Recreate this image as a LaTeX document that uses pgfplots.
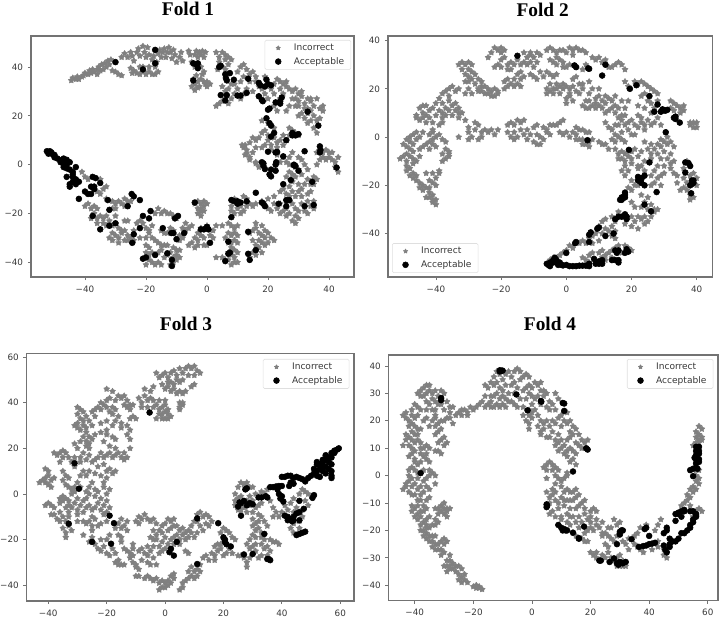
\documentclass[border=0pt]{standalone}
\usepackage{fontspec}
\setmainfont{DejaVu Sans}
\newfontfamily\titlefont{Liberation Serif}
\usepackage{pgfplots}
\pgfplotsset{compat=1.18}
\definecolor{frame}{gray}{0.45}
\definecolor{ink}{gray}{0.22}
\definecolor{ptgrey}{gray}{0.5}
\pgfdeclareplotmark{fstar}{%
  \pgfpathmoveto{\pgfqpointpolar{90}{\pgfplotmarksize}}%
  \pgfpathlineto{\pgfqpointpolar{126}{0.58\pgfplotmarksize}}%
  \pgfpathlineto{\pgfqpointpolar{162}{\pgfplotmarksize}}%
  \pgfpathlineto{\pgfqpointpolar{198}{0.58\pgfplotmarksize}}%
  \pgfpathlineto{\pgfqpointpolar{234}{\pgfplotmarksize}}%
  \pgfpathlineto{\pgfqpointpolar{270}{0.58\pgfplotmarksize}}%
  \pgfpathlineto{\pgfqpointpolar{306}{\pgfplotmarksize}}%
  \pgfpathlineto{\pgfqpointpolar{342}{0.58\pgfplotmarksize}}%
  \pgfpathlineto{\pgfqpointpolar{18}{\pgfplotmarksize}}%
  \pgfpathlineto{\pgfqpointpolar{54}{0.58\pgfplotmarksize}}%
  \pgfpathclose
  \pgfusepathqfillstroke}
\pgfplotsset{
 fold/.style={
  scale only axis, anchor=south west,
  axis line style={frame,line width=0.8pt},
  tick align=outside, tick pos=left,
  major tick length=2.4pt,
  tick style={frame,line width=0.6pt},
  tick label style={font=\fontsize{6.6}{7}\selectfont, text=ink},
  xticklabel style={yshift=-0.5pt},
  legend cell align=left,
  legend image code/.code={\draw[##1] plot coordinates {(0pt,0pt)}; \path (-6.75pt,0pt) (9.5pt,0pt);},
  legend style={font=\fontsize{6.8}{8}\selectfont, text=ink, draw=gray!25, fill=white, rounded corners=1pt,
    inner xsep=3pt, inner ysep=0.6pt, row sep=-0.4pt, /tikz/every even column/.append style={column sep=4pt}},
 },
 gpts/.style={only marks, mark=fstar, mark size=2.35pt, color=ptgrey, mark options={solid,draw=ptgrey,fill=ptgrey,line width=0.3pt},
   legend image post style={mark size=1.7pt}},
 bpts/.style={only marks, mark=*, mark size=2.2pt, color=black, mark options={solid,draw=black,fill=black}},
}
\begin{document}
\begin{tikzpicture}[x=1pt,y=1pt]
\path[use as bounding box] (0,0) rectangle (540,462.75);
\node[font=\titlefont\bfseries\fontsize{14.5}{16}\selectfont] at (141,456) {Fold 1};
\node[font=\titlefont\bfseries\fontsize{14.5}{16}\selectfont] at (407,455.25) {Fold 2};
\node[font=\titlefont\bfseries\fontsize{14.5}{16}\selectfont] at (139.5,219.75) {Fold 3};
\node[font=\titlefont\bfseries\fontsize{14.5}{16}\selectfont] at (412.5,219.75) {Fold 4};

% ---------- Fold 1
\begin{axis}[fold, at={(23.25pt,255pt)}, width=242.25pt, height=180.75pt,
 xmin=-57.7, xmax=48.2, ymin=-46, ymax=52.7,
 xtick={-40,-20,0,20,40}, xticklabels={−40,−20,0,20,40},
 ytick={-40,-20,0,20,40}, yticklabels={−40,−20,0,20,40},
 legend style={at={(1,1)},anchor=north east,xshift=-2.2pt,yshift=-3pt}]
\addplot[gpts] coordinates {
(-44.5,34.5)(-44,35.5)(-43,35)(-42.5,36)(-42,35)(-41,36)(-40.5,36.5)(-40,37.5)(-39,37)(-38.5,38.5)(-38,37.5)(-37.5,39)(-37,38)(-36,39)(-36,37)(-35.5,40)(-35,38.5)(-34.5,41)(-34,39)(-33.5,41.5)(-33,40)(-32.5,42.5)(-32,41)(-31.5,43)(-31,38.5)(-30,38)(-29,37)(-28,36.5)
(-28,44)(-27,45.5)(-26,44)(-25,46)(-24.5,44.5)(-24,42.5)(-23,46)(-22.5,47.5)(-22,44.5)(-21,48.5)(-20.5,46)(-20,44)(-19.5,48)(-19,45)(-18,43)(-17.5,44.5)(-16.5,42)(-16,45.5)(-15.5,47)(-15,44)(-14.5,46)(-14,47.5)(-13.5,44)(-13,46)(-12.5,48)(-12,46)(-11.5,43.5)(-11,47)(-10.5,45)(-10,42)(-9,44)(-8.5,46)(-8,42.5)
(-25,39.5)(-24.5,37.5)(-24,38.5)(-23,37.5)(-22,37)(-21,38)(-20,37)(-19,38)(-18,37)(-17,37)(-16,38)(-17,40)(-22,40)(-21,40)(-19,40)
(-6,46.5)(-5.5,45)(-5,42)(-4,45)(-3.5,46.5)(-3,44)(-2.5,46)(-2,45)(-1.5,46.5)(-1,44)(-0.5,46)(-4,40)(-2,40)
(-5,32)(-4.5,35)(-4,33)(-3.5,36.5)(-3,34)(-2.5,32)(-2,35)(-1.5,37)(-1,34)(-0.5,33)(0,34)(1,33)(-3,31.5)(-4,30.5)(-1,38)(0,32)
(3,46)(4,44)(5,46)(6,45)(7,44)(8,43)(4,42)(6,43)(5,40)(6,39)(7,41)(3.5,39)
(4,25)(5,26)(3,24)(6,27)(7,25)(8,27)(6,30)(7,31)(9,29)(8,33)(5,32)(10,31)(9,33)(11,27)(12,29)(13,31)(11,34)(12,36)(10,38)(11,40)(12,41)(13,39)(14,37)(15,38)(16,36)(14,34)(16,34)(17,32)(15,30)(18,31)(19,29)(17,28)(20,27)(19,36)
(22,33)(23,35)(24,34)(25,33)(26,34)(24,31)(25,29)(26,32)(22,29)(21,31)(24,27)(27,24)(26,22)(23,22)(22,24)
(28,30)(29,31)(30,29)(31,30)(29,27)(30,26)(31,28)(32,25)(33,27)(34,26)(35,24)(32,23)(31,21)(30,20)(32,19)(33,21)(34,22)(35,20)(36,18)(34,18)(33,17)(35,15)(37,23)(38,22)(38,24)(36,27)(34,27)(37,19)(36,13)
(18,18)(20,17)(22,15)(19,14)(20,12)(18,13)(17,11)(15,11)(16,10)(14,9)(20,10)(22,11)(23,9)(21,8)(23,7)(24,10)(25,8)(26,10)(27,12)(28,14)(29,13)(27,15)(25,12)(30,12)(21,6)(23,4)
(11.5,8)(12.5,8)(12,7)(13,6)(13,4.5)(14,3)(12.5,4)(14,2)(15,5)(16,0.5)(17,-1)(16,1)
(25,3)(26,1)(27,0)(29,-1)(30,3)(31,2)(32,0)(30,-2)(33,-2)(31,-4)(29,-5)(33,-6)(35,-5)(34,-8)(32,-8)(30,-8)(28,-7)(27,-9)(25,-10)(26,-12)(24,-11)
(36,5)(38,5)(39,6)(40,5)(41,5)(40,3)(39,2)(41,2)(42,1)(43,3)(42,-1)(43,-3)(38,3)(37,2)(36,0)
(16,-16)(18,-15)(20,-14)(22,-16)(20,-18)(21,-19)(23,-18)(24,-16)(25,-19)(26,-15)(26,-18)(27,-20)(27,-13)(28,-16)(29,-18)(29,-21)(28,-23)(29,-24)(30,-22)(30,-19)(31,-16)(32,-19)(33,-15)(33,-20)(34,-17)(35,-15)(35,-18)(31,-13)(33,-12)(30,-11)(22,-13)(24,-20)(26,-21)
(-4,-16)(-3,-15)(-2,-16)(-1,-15)(-3,-18)(-2,-19)(-1,-17)(-3,-20)(-2,-21)(-1,-19)(0,-16)(-2,-18)
(9,-14)(12,-13)(13,-14)(11,-17)(12,-19)(10,-18)(11,-20)(13,-17)(14,-16)(15,-17)(9,-20)(8,-19)(8,-17)
(7,-24)(8,-25)(9,-26)(10,-25)(7,-28)(8,-29)(9,-28)(10,-29)(6,-30)(7,-32)(8,-32)(9,-31)(10,-32)(8,-34)(9,-35)(7,-36)(8,-37)(10,-36)(5,-38)(3,-38)(6,-39)(7,-39)(8,-41)(9,-40)(10,-40)(9,-38)
(14,-28)(15,-27)(16,-26)(17,-28)(16,-24)(18,-25)(19,-27)(18,-29)(19,-30)(20,-28)(21,-30)(22,-31)(20,-32)(18,-32)(19,-33)(17,-31)(15,-31)(16,-33)(17,-34)(15,-36)(16,-37)(14,-38)(18,-36)
(-40,-17)(-39,-16)(-38,-18)(-37,-17)(-36,-18)(-37,-20)(-36,-22)(-38,-22)(-35,-21)(-34,-22)(-33,-21)(-36,-24)(-34,-24)(-33,-25)(-32,-23)(-30,-24)(-27,-23)(-26,-23)(-31,-28)(-32,-30)(-31,-31)(-30,-29)(-29,-30)(-28,-28)(-27,-27)(-26,-29)(-27,-31)(-26,-31)(-25,-30)(-24,-31)(-29,-32)(-28,-27)
(-33,-14)(-31,-15)(-30,-16)(-29,-15)(-28,-16)(-31,-18)(-30,-18)(-27,-14)(-26,-15)(-25,-15)(-27,-17)(-35,-12)(-36,-11)(-34,-10)(-37,-9)(-39,-6)(-40,-5)(-41,-3)(-35,-6)(-33,-9)
(-20,-33)(-19,-34)(-20,-36)(-19,-37)(-18,-36)(-20,-38)(-19,-39)(-20,-41)(-18,-40)(-17,-41)(-16,-40)(-15,-41)(-14,-38)(-13,-37)(-12,-41)(-11,-40)(-10,-39)(-11,-38)(-10,-37)(-9,-38)(-9,-35)(-10,-35)(-11,-34)(-12,-36)(-13,-33)
(-23,-24)(-22,-23)(-21,-24)(-20,-26)(-19,-27)(-18,-25)(-19,-28)(-22,-30)(-20,-30)(-18,-30)(-17,-31)(-16,-32)(-15,-27)(-14,-28)(-13,-28)(-15,-20)(-17,-20)(-16,-18)(-14,-19)(-13,-20)(-12,-20)(-11,-21)(-10,-22)(-12,-26)(-11,-27)(-9,-29)(-8,-30)(-7,-27)(-6,-26)(-5,-25)(-4,-30)(-3,-31)(-3,-28)(-2,-29)(-2,-26)(-1,-30)(-1,-33)(0,-33)(1,-29)(2,-30)(0,-25)(2,-27)(3,-25)(5,-25)(-5,-32)(-3,-33)
(-30,-21)(-29,-26)(-31,-25)(-24,-27)(28,5)(27,3)(24,1)(27,-3)(28,-4)(26,-5)(36,-6)(35,-8)(34,-11)(31,-10)(29,-13)(28,-11)(19,8)(18,7)(16,7)(27,31)(28,27)(29,24)(30,24)(33,23)(-7,-24)(-8,-26)(-9,-31)(-6,-33)(-4,-34)(-15,-35)(-16,-36)(-14,-33)(-15,-33)
};
\addlegendentry{Incorrect}
\addplot[bpts] coordinates {
(-30,42)(-17,47)(-21,39)(-17,41.5)(-4.5,41.5)(-3.5,41)(-3,41.5)(-3,39.5)(-4.5,34.5)(4,40)(4.5,40.5)(6,37)(7.5,37.5)(6.2,35.5)(6.5,34.5)(8.8,34.8)(13.5,35.2)(17,33.5)(17.5,32.5)(19,32)(19.5,34.8)(20,33)(21,32.5)(4.5,28.5)(6.5,28.5)(6,26.3)(10,28.3)(11,28.3)(13,29.4)(17,28)(18,26.5)(18.3,26)(22.5,25.5)(24,25)(24.5,27.5)(24,26)(20.5,23)(20,22.5)(33,21.7)(36.5,16)(19.5,19)(20.5,17)(21,16)(22,13)(21,11.5)(28,13)(29,12)(30,12.5)(28,12)(26,10)(37,7.5)(37.2,6)(37,5)(32,5.5)(20,5.3)(22.5,5)(23,5.2)(25,3.4)(22.7,1)(22.5,0)(18,1)(18.5,0.5)(18.5,-0.5)(19,-1.8)(21,-2)(22.5,-2.5)(28.5,0)(29,-0.5)(28.5,-0.3)(30,-2.5)(42.5,-1.2)(20.5,-4)(21,-4.8)(25,-8)(27.5,-6.3)(34.5,-7)
(-52.5,5.5)(-52,5)(-51.5,5.5)(-51,5)(-52,4.5)(-51,4.5)(-50,4)(-50,3)(-49,2.5)(-47.5,2)(-47,2.5)(-46.5,1.5)(-46,2)(-48,1)(-47,0.5)(-46,0)(-47,-1)(-46,-1.5)(-45,1)(-43,-1)(-45,-2)(-44,-3)(-46,-5)(-44,-4)(-44,-5)(-43,-6)(-44,-7)(-45,-8)(-43,-8)(-42,-7)(-45,-9)(-37.5,-5)(-36.5,-5.5)(-35,-7.5)(-38,-9)(-37,-9)(-40,-11)(-39,-12)(-38,-12)(-37,-10)(-42,-14)(-32.5,-14.5)(-24.7,-12)(-24,-13)(-22,-14.5)(-26,-17)(-37.5,-21)(-35,-26.5)(-32,-18.5)(-32,-25)(-30,-24)
(-18.5,-19)(-21,-21)(-19,-22)(-22,-26)(-24,-28.5)(-24.5,-32)(-21,-38.5)(-20,-38)(-17,-37)(-14.5,-26)(-13,-36.3)(-11.5,-39)(-11.5,-41.5)(-11.7,-28)(-11,-28)(-9.5,-21)(-10.5,-22)(-10,-30.5)(-7.5,-28)(-4,-15.5)
(-2,-26.5)(-1,-26.5)(0,-25.5)(0.5,-26.5)(1,-32)(6,-39.5)(7,-36.5)(7.5,-36)(7,-31.5)(8,-21.5)(8,-14.5)(9,-15)(10,-15)(10,-16)(11,-15.5)(13,-15)(16,-11.5)(18,-15.5)(19,-17)(18.5,-16)(13.5,-27.5)(16,-35)(13.5,-36.5)(14,-39)(23.5,-16)(26,-17)(26,-14.5)(27,-14.5)(32,-17)(35,-16.5)
};
\addlegendentry{Acceptable}
\end{axis}

% ---------- Fold 2
\begin{axis}[fold, at={(291pt,255pt)}, width=243.5pt, height=180.75pt,
 xmin=-54.7, xmax=44.9, ymin=-58, ymax=41.9,
 xtick={-40,-20,0,20,40}, xticklabels={−40,−20,0,20,40},
 ytick={-40,-20,0,20,40}, yticklabels={−40,−20,0,20,40},
 legend style={at={(0,0)},anchor=south west,xshift=3pt,yshift=3pt}]
\addplot[gpts] coordinates {
(-51,-9)(-50,-8)(-49,-10)(-48,-8)(-49,-7)(-47,-9)(-46,-10)(-47,-11)(-49,-12)(-49,-14)(-48,-13)(-47,-15)(-48,-16)(-47,-17)(-46,-16)(-46,-18)(-45,-19)(-44,-20)(-45,-21)(-44,-22)(-43,-21)(-42,-23)(-42,-25)(-43,-25)(-41,-26)(-41,-27)(-40,-28)(-40,-26)(-41,-24)(-42,-21)(-40,-20)(-41,-19)(-42,-18)(-40,-17)(-43,-15)(-41,-15)(-39,-14)(-39,-15)
(-50,-3)(-49,-1)(-48,0)(-47,1)(-46,2)(-49,-4)(-48,-2)(-47,-3)(-48,-5)(-46,-1)(-45,0)(-45,-5)(-44,-4)(-43,-3)(-42,-2)(-41,-1)(-42,-5)(-40,-4)(-42,1)(-41,2)(-40,0)(-39,1)(-41,-3)(-38,-1)(-37,-2)(-37,-5)(-36,-6)(-36,-8)(-37,-9)(-38,-10)(-38,-7)(-36,-7)
(-46,8)(-46,9)(-45,7)(-44,10)(-44,8)(-43,6)(-43,9)(-42,11)(-42,8)(-41,6)(-41,3)(-40,9)(-41,12)(-40,14)(-39,16)(-39,11)(-38,10)(-38,8)(-37,9)(-37,12)(-36,15)(-36,11)(-35,13)(-34,14)(-34,11)(-33,12)(-33,10)(-35,9)(-36,17)(-36,20)(-37,19)(-35,21)(-33,20)(-34,19)(-38,14)
(-33,30)(-32,31)(-31,30)(-30,31)(-29,30)(-32,28)(-30,28)(-31,26)(-30,25)(-29,27)(-28,26)(-30,23)(-31,23)(-29,24)(-28,22)(-27,20)(-26,21)(-27,19)(-25,18)(-24,18)(-26,19)(-24,20)(-23,19)(-22,20)(-21,19)(-23,17)(-21,18)(-30,20)(-31,18)(-29,18)(-22,17)
(-24,33)(-23,35)(-22,37)(-21,36)(-20,37)(-20,35)(-19,36)(-19,33)(-20,32)(-22,29)(-21,30)(-20,29)(-18,30)(-17,31)(-17,28)(-18,28)(-16,30)(-15,32)(-14,30)(-14,27)(-13,31)(-12,33)(-11,34)(-11,31)(-10,33)(-12,30)(-10,29)(-9,31)(-8,34)(-9,35)(-11,35)(-13,35)
(-18,24)(-19,23)(-17,22)(-16,24)(-15,22)(-14,24)(-13,25)(-16,21)(-14,21)(-18,21)(-19,20)
(-6,36)(-5,37)(-4,36)(-3,35)(-2,36)(-1,36)(0,35)(1,37)(2,36)(3,37)(4,36)(5,36)(6,35)(2,34)(-5,32)(-4,31)(-3,33)(-2,32)(-3,30)(-1,31)(0,29)(-1,29)(1,30)(3,29)(5,28)(6,30)(8,33)(9,32)(10,33)(11,31)(12,32)(13,29)(14,29)(15,30)(16,31)(17,30)(18,28)
(-11,26)(-10,25)(-9,24)(-7,25)(-6,27)(-5,26)(-4,25)(-3,26)(-5,22)(-4,20)(-3,22)(-6,20)(-5,19)(-6,18)(-4,18)(-3,20)(-2,21)(-1,22)(-1,20)(-2,18)(0,21)(1,20)(1,18)(0,16)(0,14)(2,15)(1,17)(2,21)(3,19)(4,18)(5,20)(5,22)(7,23)(8,20)(7,18)(3,25)(2,24)
(9,14)(8,13)(7,12)(6,12)(9,16)(10,17)(11,15)(10,13)(12,14)(12,17)(13,16)(14,15)(14,12)(13,11)(15,13)(15,10)(16,12)(16,8)(17,9)(18,9)(17,7)(9,12)(15,17)(17,15)(19,15)(18,12)(12,10)
(21,23)(22,22)(23,23)(24,22)(25,21)(26,20)(27,19)(28,18)(24,18)(25,15)(23,17)(22,13)(24,12)(26,14)(28,15)(27,12)(26,10)(23,8)(23,6)(24,5)(25,7)(26,5)(27,6)(22,4)(24,3)(28,8)(29,5)(19,21)(18,23)
(32,15)(33,14)(34,13)(35,12)(33,11)(35,10)(36,11)(36,13)(32,12)(38,6)(39,6)(40,6)(39,4)(40,4)(38,5)
(-32,10)(-33,8)(-31,7)(-30,4)(-28,6)(-27,5)(-28,3)(-30,2)(-29,0)(-30,-1)(-27,-1)(-26,0)(-25,3)(-24,2)(-23,3)(-22,1)(-21,3)(-33,0)(-26,2)
(-18,5)(-17,6)(-16,5)(-15,7)(-14,6)(-13,7)(-18,2)(-17,0)(-16,-1)(-16,2)(-15,0)(-14,3)(-13,1)(-12,-1)(-12,3)(-11,1)(-10,-2)(-9,1)(-9,-3)(-8,0)(-8,-3)(-10,4)(-9,5)(-7,4)(-6,3)(-5,5)(-4,5)(-3,5)(-2,6)(-1,7)(-7,-1)(-6,2)(-5,1)
(-2,2)(-1,1)(0,2)(1,0)(2,2)(3,1)(3,-1)(4,-1)(5,-1)(5,-3)(6,-3)(7,-4)(7,-2)(3,4)(4,3)(5,3)(6,2)(7,2)(8,-1)(10,-2)(11,-3)(12,-3)(13,-5)(14,-1)(15,-2)(15,1)(16,0)(17,2)(17,-1)(18,-2)(19,3)(20,1)(21,1)(14,3)(15,5)(16,5)
(15,-5)(16,-7)(17,-6)(18,-7)(17,-9)(18,-10)(16,-9)(19,-8)(20,-9)(18,-12)(19,-14)(20,-11)(17,-14)(18,-16)(22,-8)(23,-6)(25,-5)(26,-7)(26,-9)(27,-5)(28,-7)(29,-4)(30,-2)(31,-3)(30,-6)(32,-7)(31,-9)(33,-10)(29,-9)(30,-12)(28,-12)(27,-14)(26,-16)(28,-17)(29,-16)(27,-19)(26,-20)(29,-20)(32,-11)(32,-13)(33,-15)(34,-16)(26,-3)(24,-2)(33,-4)
(37,-10)(36,-17)(37,-19)(36,-21)(35,-22)(37,-22)(38,-24)(38,-26)(39,-25)(39,-15)(40,-17)(40,-20)(36,-13)(38,-16)(34,-19)
(20,-18)(21,-20)(20,-22)(22,-20)(19,-21)(23,-24)(20,-27)(21,-29)(23,-29)(25,-30)(27,-31)(28,-30)(26,-28)(24,-27)(25,-25)(22,-33)(21,-35)(23,-34)(24,-36)(25,-35)(20,-33)(20,-37)(22,-38)(24,-33)(26,-33)(27,-30)
(15,-35)(14,-37)(13,-39)(14,-41)(12,-38)(11,-40)(10,-37)(9,-40)(8,-41)(7,-42)(6,-44)(5,-43)(4,-44)(2,-46)(1,-45)(0,-47)(-1,-48)(-2,-49)(-4,-50)(-5,-51)(10,-43)(8,-44)(15,-39)(18,-36)(16,-31)(14,-33)(11,-35)(12,-34)(15,-42)
(5,-50)(6,-51)(7,-49)(8,-48)(10,-48)(11,-47)(12,-49)(13,-48)(14,-50)(7,-52)(9,-52)(11,-50)(15,-46)(16,-45)(18,-45)(19,-46)(20,-47)(17,-48)(12,-51)(14,-47)
(-45,12)(-43,13)(-39,5)(-38,6)(-44,2)(-47,-6)(-45,-8)(22,-12)(24,-10)(22,-13)(24,-14)(23,-12)(21,-5)(20,-6)(30,-15)(31,0)(32,-2)(29,-1)(28,-3)(12,6)(13,4)(18,5)(19,6)(20,7)(21,5)(22,9)(11,12)(7,15)(6,15)(5,13)(-44,13)(-38,18)(-26,23)(-25,21)(-27,24)(-15,26)(-8,27)(4,22)(10,20)
};
\addlegendentry{Incorrect}
\addplot[bpts] coordinates {
(-15,33.7)(2.5,29.7)(3,29)(6.7,28.5)(7,28.3)(11,25.5)(12,30)(19.5,20)(21.5,21.5)(25.5,17)(28,13.5)(27,10.5)(29,10.5)(29.5,11.5)(30,11)(30.5,11)(31,11.3)(33,8)(33.5,7.5)(33.5,8.5)(34.8,6)(30.5,2)(6.5,-1.3)(19.2,-5.3)(25.5,-10.5)(36.5,-10.5)(37.5,-10.8)(38,-12)(36.5,-14.7)(38.5,-18)(38.5,-19.5)(39,-19)(38,-20)(39,-18)(38.3,-23.3)
(22,-16.5)(23,-17)(24,-16)(22,-18)(23,-19)(24,-20)(23,-17.5)(27.7,-22.8)(18,-23)(18,-24)(17,-25)(16.5,-26)(17,-26)(18,-25)(24,-28)(26,-30.8)(16,-33)(17,-33)(18,-32)(18.5,-33)(15,-34)(18.5,-34)
(10,-37.5)(9.5,-38)(7.5,-39.5)(7,-40.5)(7,-43.5)(12,-41)(14.5,-40)(3,-43.5)(2.7,-44)(0,-48)
(15,-47)(16,-47)(15.5,-48)(18.5,-46.5)(18,-48)(19,-47.5)(15,-51)(16,-51)(16,-52)(14,-51)
(-6,-52.5)(-5.5,-53)(-5,-52)(-5,-53.5)(-4,-52)(-4,-51)(-3.5,-50)(-3,-51)(-3,-52)(-2.5,-53)(-2,-52)(-1.5,-53)(-1,-53.2)(0,-53)(1,-53.5)(2,-53.5)(3,-53.5)(4,-53.3)(5,-53.3)(6,-53.3)(7,-52.5)(7,-53.5)(9,-52.5)(10,-52.5)(10,-51.5)(11,-52.5)(11,-51)(8.5,-50.5)(-5.5,-52.5)
};
\addlegendentry{Acceptable}
\end{axis}

% ---------- Fold 3
\begin{axis}[fold, at={(20pt,12pt)}, width=245.5pt, height=185.5pt,
 xmin=-47.4, xmax=64.7, ymin=-46.9, ymax=61.5,
 xtick={-40,-20,0,20,40,60}, xticklabels={−40,−20,0,20,40,60},
 ytick={-40,-20,0,20,40,60}, yticklabels={−40,−20,0,20,40,60},
 legend style={at={(1,1)},anchor=north east,xshift=-3.5pt,yshift=-4pt}]
\addplot[gpts] coordinates {
(-3,53)(-2,51)(-1,52)(0,53)(1,51)(2,53)(3,54)(4,52)(5,55)(6,53)(7,55)(8,56)(9,55)(10,56)(11,54)(12,53)(10,52)(8,52)(6,50)(5,49)(4,50)(3,48)(2,49)(1,47)(2,45)(3,46)(1,49)(-1,48)(0,46)(5,45)(6,44)(7,45)(9,47)(10,48)(4,44)(5,40)(5,38)(6,40)(5,37)(6,39)
(-3,39)(-2,37)(-1,38)(0,39)(1,37)(-2,35)(-1,35)(0,36)(1,35)(-1,33)(0,33)(1,33)(2,34)(-3,33)(-4,38)(-5,42)(-4,41)(-2,41)(-6,41)(-7,43)(-8,40)(-9,42)(-6,38)(-8,38)(-5,45)(-4,47)(-7,46)(0,41)
(-20,46)(-18,45)(-16,43)(-17,41)(-15,42)(-14,43)(-13,41)(-14,39)(-13,38)(-12,39)(-12,37)(-11,39)(-11,34)(-10,33)(-12,33)(-13,30)(-12,28)(-13,26)(-12,24)(-16,34)(-15,31)(-15,29)(-18,35)(-17,32)(-18,30)(-19,42)(-20,41)(-21,39)(-22,37)(-20,38)(-24,37)(-23,38)(-19,36)
(-30,38)(-29,37)(-28,36)(-30,35)(-29,33)(-28,32)(-30,31)(-30,29)(-31,30)(-29,28)(-28,30)(-27,29)(-26,32)(-25,30)(-27,27)(-26,25)(-27,23)(-26,22)(-27,21)(-25,24)(-28,25)(-24,26)(-26,20)(-29,23)(-22,27)(-20,26)(-20,28)(-18,25)(-17,24)(-21,23)(-19,21)
(-38,18)(-37,17)(-36,18)(-35,19)(-35,16)(-36,14)(-34,18)(-33,16)(-31,16)(-32,14)(-31,12)(-29,14)(-29,16)(-27,15)(-25,14)(-26,17)(-24,15)(-23,16)(-22,18)(-21,16)(-20,17)(-19,18)(-18,16)(-17,17)(-16,18)(-15,16)(-14,15)(-13,16)(-14,18)(-12,20)(-23,12)(-21,13)(-20,10)(-19,11)(-18,9)(-17,10)(-20,7)(-21,5)(-22,8)(-24,9)
(-35,10)(-34,8)(-35,6)(-34,4)(-33,3)(-32,2)(-31,3)(-30,5)(-33,7)(-31,1)(-32,0)(-29,3)(-27,1)(-26,3)(-25,5)(-24,2)(-23,1)(-21,3)(-20,0)(-19,2)(-24,-1)(-26,0)(-22,-2)
(-43,5)(-42,6)(-41,7)(-41,5)(-40,4)(-40,8)(-40,10)(-41,11)(-39,6)(-38,7)(-39,3)
(-41,-5)(-40,-4)(-39,-5)(-38,-6)(-36,-4)(-35,-3)(-34,-2)(-33,-3)(-35,-1)(-33,-5)(-32,-6)(-34,-6)(-36,-8)(-38,-9)(-37,-11)(-39,-9)(-36,-12)(-35,-10)(-34,-12)(-33,-14)(-35,-15)(-34,-17)(-34,-19)(-32,-16)(-33,-10)
(-30,-7)(-28,-8)(-27,-6)(-26,-5)(-25,-7)(-24,-6)(-23,-4)(-22,-7)(-21,-5)(-20,-8)(-20,-3)(-19,-6)(-21,-9)(-30,-12)(-28,-12)(-27,-13)(-26,-12)(-25,-14)(-24,-11)(-23,-14)(-22,-13)(-20,-12)
(-26,-21)(-25,-19)(-24,-22)(-23,-24)(-22,-20)(-22,-25)(-21,-23)(-20,-26)(-19,-27)(-20,-20)(-19,-18)(-18,-24)(-17,-26)(-16,-18)(-15,-15)(-16,-13)(-15,-11)(-14,-14)(-13,-16)(-15,-19)(-13,-12)(-17,-15)(-15,-21)(-14,-24)(-13,-25)(-12,-26)(-17,-30)(-16,-31)(-15,-31)(-16,-29)(-14,-31)(-12,-28)(-11,-30)(-10,-32)(-9,-33)(-11,-27)(-9,-36)(-10,-36)(-10,-31)
(-7,-37)(-6,-36)(-5,-37)(-4,-38)(-3,-37)(-2,-39)(-1,-38)(0,-39)(1,-38)(1,-40)(0,-41)(-1,-41)(-2,-42)(2,-39)(3,-37)(2,-36)(3,-35)(5,-42)(6,-41)(6,-39)(7,-38)(8,-37)(9,-36)(10,-37)(10,-34)(11,-33)(12,-34)(11,-36)(9,-32)(8,-34)(12,-31)(13,-28)(14,-27)(15,-29)(16,-26)(17,-27)(17,-29)(18,-25)(19,-24)(20,-27)(19,-22)(21,-26)
(-9,-10)(-8,-11)(-7,-9)(-6,-11)(-5,-12)(-4,-11)(-3,-13)(-9,-13)(-10,-12)(-1,-17)(0,-13)(1,-11)(2,-12)(3,-11)(2,-15)(3,-14)(1,-16)(0,-19)(-1,-21)(-2,-23)(-3,-20)(-4,-23)(-5,-25)(-6,-27)(-7,-26)(-8,-29)(-6,-30)(-5,-31)(-4,-28)(-2,-26)(-1,-25)(-3,-31)(1,-22)(2,-20)(3,-19)(4,-18)(5,-20)(6,-18)(7,-17)(8,-16)(9,-17)(10,-19)(11,-17)(8,-19)(5,-16)(9,-14)(10,-12)(11,-9)(12,-8)(13,-10)(14,-9)(15,-10)(16,-12)(15,-14)(14,-13)(13,-16)(12,-14)(11,-12)
(7,-25)(8,-26)(17,-23)(18,-22)(19,-17)(20,-15)(21,-16)(22,-17)(23,-19)(24,-20)(21,-22)(22,-24)(23,-26)(20,-20)
(24,0)(25,3)(26,5)(27,4)(28,5)(29,3)(24,-3)(25,-2)(26,-1)(27,-6)(28,-8)(26,-7)(28,-3)(29,-1)(30,-3)(31,0)(33,1)(34,0)(35,2)(31,-6)(30,-8)(32,-9)(32,-12)(31,-13)(33,-10)(34,-12)(30,-14)(31,-16)(33,-17)(33,-19)(31,-19)(29,-20)(28,-22)(30,-23)(33,-22)(34,-24)(35,-23)(36,-25)(35,-27)(33,-27)(31,-25)(32,-28)(29,-28)(28,-30)(27,-28)(26,-27)(28,-32)(25,-27)(38,-21)(39,-22)(37,-21)
(36,-3)(37,-6)(38,-8)(39,-10)(37,-10)(40,-8)(41,-5)(42,-7)(43,-4)(44,-8)(45,-6)(44,-2)(46,0)(47,2)(48,1)(49,0)(48,-3)(50,-1)(49,-5)(47,-10)(46,-12)(44,-13)(43,-15)(44,-17)(46,-15)(47,-7)
(-17,20)(-11,-22)(-9,-25)(-8,-24)(-11,-24)(-4,-20)(-3,-18)(-2,-16)(-4,-16)(-1,-14)(-5,-19)(-6,-23)(0,-24)(3,-22)(5,-22)(7,-20)(6,-15)(4,-14)(32,-5)(33,-4)(30,-11)(35,-14)(32,-15)(34,-20)(36,-20)(30,-18)(29,-24)(31,-22)(29,-5)(25,-7)(24,-5)(26,-4)(30,3)(-36,-2)(-30,-2)(-29,-5)(-31,-4)(-28,-3)(-27,-2)(-25,-10)(-30,-9)(-33,-8)(-28,-18)(-25,-16)(-29,8)(-28,10)(-27,8)(-26,10)(-28,18)(-30,20)(-31,22)(-27,34)(-24,34)(-22,40)(-18,38)(-17,37)(-20,32)(-22,31)(-25,36)
};
\addlegendentry{Incorrect}
\addplot[bpts] coordinates {
(-5.3,35.7)(-31,13.5)(-29.5,2.3)(-33,-13)(-19,-9.5)(-17.5,-12.8)(-25,-21)(-18.5,-21.8)(2,-24)(1.5,-25.5)(4,-21)(3,-27)(11,-30.7)(11,-10.7)(18.2,-12.8)(20,-19)(20.5,-20)(20.5,-21)(21,-22)(22.5,-23)
(27,-26.5)(30,-26.3)(35,-28.5)(35.5,-28.5)(36,-29)(34,-17.5)(26,-9.5)(25.5,-3.7)(25,-5.5)(26,-4)(27,-3)(28,-5)(29,-4)(30,-4.5)(28,2.5)(27.5,2)(32,-1.5)(33,-1.5)(34.5,-1)(35,-1.5)
(36,3)(37,3)(38,3.3)(39,3.5)(40,3.5)(38.5,2)(39,0)(40,-1)(39.5,-2)(40.5,-3.3)(46,-3)(47.5,-6.5)(46,-8)(45,-8.5)(51,-0.5)(50.5,-1.7)
(42,-10)(43,-11)(44,-10)(42,-11.5)(43.5,-12)(44,-11.5)(46,-11.5)(45,-18)(46,-17.5)(47,-17)(48,-16.5)(41,-9.5)
(40,7.5)(41,7.5)(42,8)(43,8)(44,7)(45,7.5)(43,5)(44,4.5)(42.5,3.5)(46,7)(47,6.5)(48,5.5)(49,7)(50,8)(51,9)(52,8)(53,7.5)(52,10)(53,11)(54,12)(54,10)(55,12)(53,13)(55,9)(52,13)(54,14)(55,15)(56,14)(55,17)(56,16)(57,18)(58,19)(59,19.5)(59.5,20)(58,18)(57,16)(57,13)(57,10)(57,8)(57,7)(56,11)(54,15)(51,11)(52,14)
};
\addlegendentry{Acceptable}
\end{axis}

% ---------- Fold 4
\begin{axis}[fold, at={(291.5pt,12.5pt)}, width=247pt, height=184pt,
 xmin=-48.9, xmax=63.5, ymin=-45.5, ymax=44,
 xtick={-40,-20,0,20,40,60}, xticklabels={−40,−20,0,20,40,60},
 ytick={-40,-30,-20,-10,0,10,20,30,40}, yticklabels={−40,−30,−20,−10,0,10,20,30,40},
 legend style={at={(1,1)},anchor=north east,xshift=-3.5pt,yshift=-3pt}]
\addplot[gpts] coordinates {
(-17,-41.5)(-18,-41)(-19,-41)(-20,-40.5)(-19,-40)(-18,-40.5)(-22,-39)(-23,-38)(-24,-39)(-25,-38)(-24,-37)(-23,-36)(-25,-36)(-26,-35)(-24,-34)(-25,-33)(-26,-33)(-27,-34)(-28,-34)(-29,-35)(-28,-33)(-29,-33)(-27,-32)(-28,-31)(-29,-31)(-30,-33)(-31,-29)(-32,-27)(-33,-27)(-33,-25)(-34,-24)(-32,-25)(-34,-26)(-35,-24)(-35,-22)(-36,-23)(-36,-21)(-37,-20)(-38,-20)(-37,-22)(-38,-18)(-36,-19)(-34,-22)(-31,-24)(-30,-25)(-29,-24)(-30,-23)
(-41,-13)(-40,-12)(-39,-11)(-41,-11)(-40,-15)(-39,-14)(-38,-13)(-38,-15)(-39,-16)(-37,-11)(-37,-13)(-36,-12)(-35,-15)(-36,-16)(-38,-9)(-39,-9)(-35,-8)(-34,-18)(-35,-19)(-33,-18)(-33,-16)(-32,-17)(-32,-14)(-33,-12)(-32,-12)(-31,-13)(-30,-12)(-29,-12)(-30,-14)(-29,-13)(-30,-10)(-31,-11)(-29,-15)(-28,-12)
(-44,-5)(-43,-4)(-42,-6)(-43,-3)(-42,-2)(-41,-4)(-40,-3)(-39,-5)(-38,-4)(-42,0)(-42,2)(-41,3)(-40,2)(-39,4)(-38,5)(-40,5)(-41,-1)(-39,-1)(-37,-2)(-36,-4)(-35,-5)(-36,-1)(-35,0)(-34,1)(-33,0)(-35,2)(-39,1)(-37,2)(-42,7)(-41,8)(-40,6)
(-44,11)(-43,13)(-42,14)(-41,13)(-43,15)(-42,11)(-40,12)(-41,10)(-39,13)(-38,12)(-39,15)(-37,10)(-36,11)(-36,8)(-35,10)(-36,6)(-35,5)(-37,7)(-33,9)(-32,9)(-31,8)(-32,12)(-31,13)(-30,11)(-29,12)(-30,14)(-33,15)(-32,16)
(-44,22)(-43,21)(-43,23)(-42,20)(-41,22)(-42,18)(-41,19)(-40,21)(-40,18)(-39,17)(-41,24)(-40,26)(-39,25)(-39,22)(-38,24)(-34,20)(-33,21)(-33,18)(-32,19)(-31,20)(-31,17)(-33,22)(-35,18)
(-39,30)(-38,31)(-37,32)(-36,33)(-35,33)(-38,29)(-37,29)(-36,30)(-35,31)(-34,30)(-34,28)(-33,27)(-32,29)(-32,26)(-31,31)(-30,30)(-31,26)(-30,24)(-29,27)(-28,25)(-28,23)(-27,25)(-28,21)(-27,19)(-29,21)(-33,31)(-36,27)
(-26,22)(-25,23)(-24,24)(-23,24)(-22,23)(-21,25)(-22,22)(-20,24)(-19,25)(-18,26)(-17,27)(-16,25)(-15,26)(-14,27)(-14,25)(-13,25)(-12,26)(-11,25)(-10,26)(-9,25)(-24,22)
(-16,33)(-15,32)(-14,34)(-13,36)(-12,38)(-13,33)(-12,30)(-11,32)(-10,31)(-9,33)(-10,35)(-11,37)(-9,37)(-8,38)(-7,36)(-6,38)(-5,39)(-4,38)(-3,36)(-2,37)(-1,36)(-1,33)(1,34)(2,33)(3,34)(4,31)(5,30)(4,29)(3,31)(-7,33)(-8,30)(-6,30)(-5,32)(-4,28)(-3,31)(-2,28)(-1,30)(0,29)(-13,29)(-14,29)(-16,29)(-8,27)(-7,27)(-6,26)(-5,25)(-3,25)(-9,28)(8,30)(9,28)(6,27)(7,26)(8,24)(5,25)(3,26)
(-3,22)(-2,20)(-1,22)(0,23)(1,24)(-1,19)(-1,17)(0,21)(2,18)(3,16)(3,15)(4,17)(5,14)(6,14)(4,19)(6,18)(5,20)(7,20)(8,19)(9,21)(10,22)(12,23)(10,18)(11,20)(12,19)(13,20)(14,18)(15,17)(16,15)(14,15)(13,16)(12,13)(11,11)(10,13)(9,15)(9,12)(10,10)(9,9)(11,8)(12,9)(13,10)(14,9)(15,8)(16,11)(17,13)(18,12)(19,13)(17,10)(14,6)(13,5)(15,4)(12,7)
(4,3)(5,2)(5,4)(6,5)(7,4)(8,3)(7,2)(9,2)(8,0)(9,-1)(10,-2)(11,-1)(10,-4)(12,0)(12,1)(8,-3)
(6,-8)(7,-7)(8,-9)(8,-6)(6,-10)(9,-10)(10,-8)(11,-6)(12,-5)(13,-6)(14,-6)(15,-5)(16,-7)(12,-9)(14,-9)(16,-11)(17,-10)(18,-9)(15,-12)(13,-12)(11,-11)(9,-12)(7,-13)(6,-14)(8,-15)(10,-15)(12,-14)(14,-15)(16,-15)(18,-14)(20,-13)(21,-12)(22,-13)(20,-15)(22,-16)(19,-16)(17,-17)(13,-18)(12,-17)(10,-16)(16,-19)(18,-21)(19,-20)(20,-19)(21,-20)(22,-18)(23,-19)(24,-17)(17,-23)(18,-24)(19,-24)(15,-22)(14,-21)(24,-22)(25,-21)(26,-22)(27,-19)(28,-16)(29,-18)(30,-17)(31,-20)(27,-23)(25,-25)(26,-26)(28,-24)(29,-22)(31,-24)(33,-23)(32,-25)(35,-22)(36,-21)(35,-25)(36,-26)(37,-19)(39,-18)(37,-27)(38,-28)(41,-27)(43,-26)(43,-24)(45,-27)(45,-29)(46,-28)(46,-30)(44,-16)(43,-18)(42,-20)
(20,-28)(21,-29)(22,-28)(22,-30)(24,-29)(25,-30)(26,-28)(27,-30)(28,-31)(29,-30)(30,-29)(31,-31)(30,-33)(31,-33)(32,-33)(29,-33)(33,-27)
(57,18)(58,17)(56,16)(57,15)(58,14)(56,14)(57,13)(58,13)(56,12)(57,12)(55,11)(56,0)(56,-2)(55,-4)(56,-5)(54,-5)(55,-6)(53,-7)(54,-8)(53,-9)(52,-10)(51,-11)(57,2)(56,2)(57,-1)(54,-11)(52,-13)(57,-12)(56,-13)(58,-13)(55,-15)
(-41,16)(-40,15)(-38,17)(-37,20)(-36,21)(-36,24)(-34,24)(-33,24)(-35,26)(-30,20)(-38,10)(-38,8)(-40,9)(-38,-7)(-37,-6)(-36,-9)(-33,-3)(-36,-18)(-37,-17)(-41,-7)(-40,-7)(-33,-22)(-31,-27)(-30,-28)(-28,-29)(-11,28)(-10,29)(-12,34)(-6,34)(-4,35)(-2,32)(0,32)(1,28)(2,29)(-1,24)(0,26)(2,22)(3,20)(6,24)(7,16)(8,13)(8,11)(13,14)(15,12)(5,-1)(7,-5)(5,-6)(11,-9)(13,-9)(15,-8)(18,-12)(15,-17)(20,-17)(24,-21)(26,-19)(13,-15)(57,-3)
};
\addlegendentry{Incorrect}
\addplot[bpts] coordinates {
(-11,38.4)(-10.5,38.3)(-10,38.3)(-11,38)(-5.3,29.6)(-1.5,23.8)(3,27.2)(3.2,27)(10.5,26.5)(11,26.3)(11,23.6)(18.5,10)(19,9.5)(-31,28.3)(-31,27.5)(-38,0.9)(14,1.5)(5,-10.5)(5,-11.5)(5.2,-11)(9,-18)(10,-19)(10.5,-20)(11,-19.5)(11.5,-20)(12,-20)(14,-20.8)(17.8,-18.6)(16,-22.8)(16,-23)
(23,-31)(23.5,-31)(26.5,-31.5)(28,-30.2)(29,-32)(30,-31.5)(29.5,-32.5)(31,-32)(32,-31.5)(29,-25)(30,-20.5)(30.5,-20)(31,-20)(30,-21.5)(34,-23.2)(36.5,-26)(38,-25.7)(39,-25.5)(40,-25)(41,-24.8)(42,-24.5)(38.5,-19.5)(39,-19)(40,-22)
(45,-21)(46,-20)(46,-19)(45,-25.5)(45.5,-27)(46,-28)(47,-23)(47,-26)(48,-24)(49,-24)(50,-23)(47,-25)(51,-21)(52,-21)(53,-20)(54,-19)(54,-18)(55,-17)(55,-16)(56,-15)(56,-14)(55,-13)(54,-13)(56,-14.5)(52,-13)(51,-13)(50,-13.5)(50,-14)(49,-14)(49,-16.5)(52,-12.5)(51,-15)
(56,10.5)(57,10.5)(56,9)(57,9)(57,8)(56,7.5)(55.5,6.5)(56,6)(57,6)(57,5)(56,4.5)(56,3)(55,2.5)(54,2)(56.5,2.5)(55,-0.2)(56,7)
};
\addlegendentry{Acceptable}
\end{axis}
\end{tikzpicture}
\end{document}
